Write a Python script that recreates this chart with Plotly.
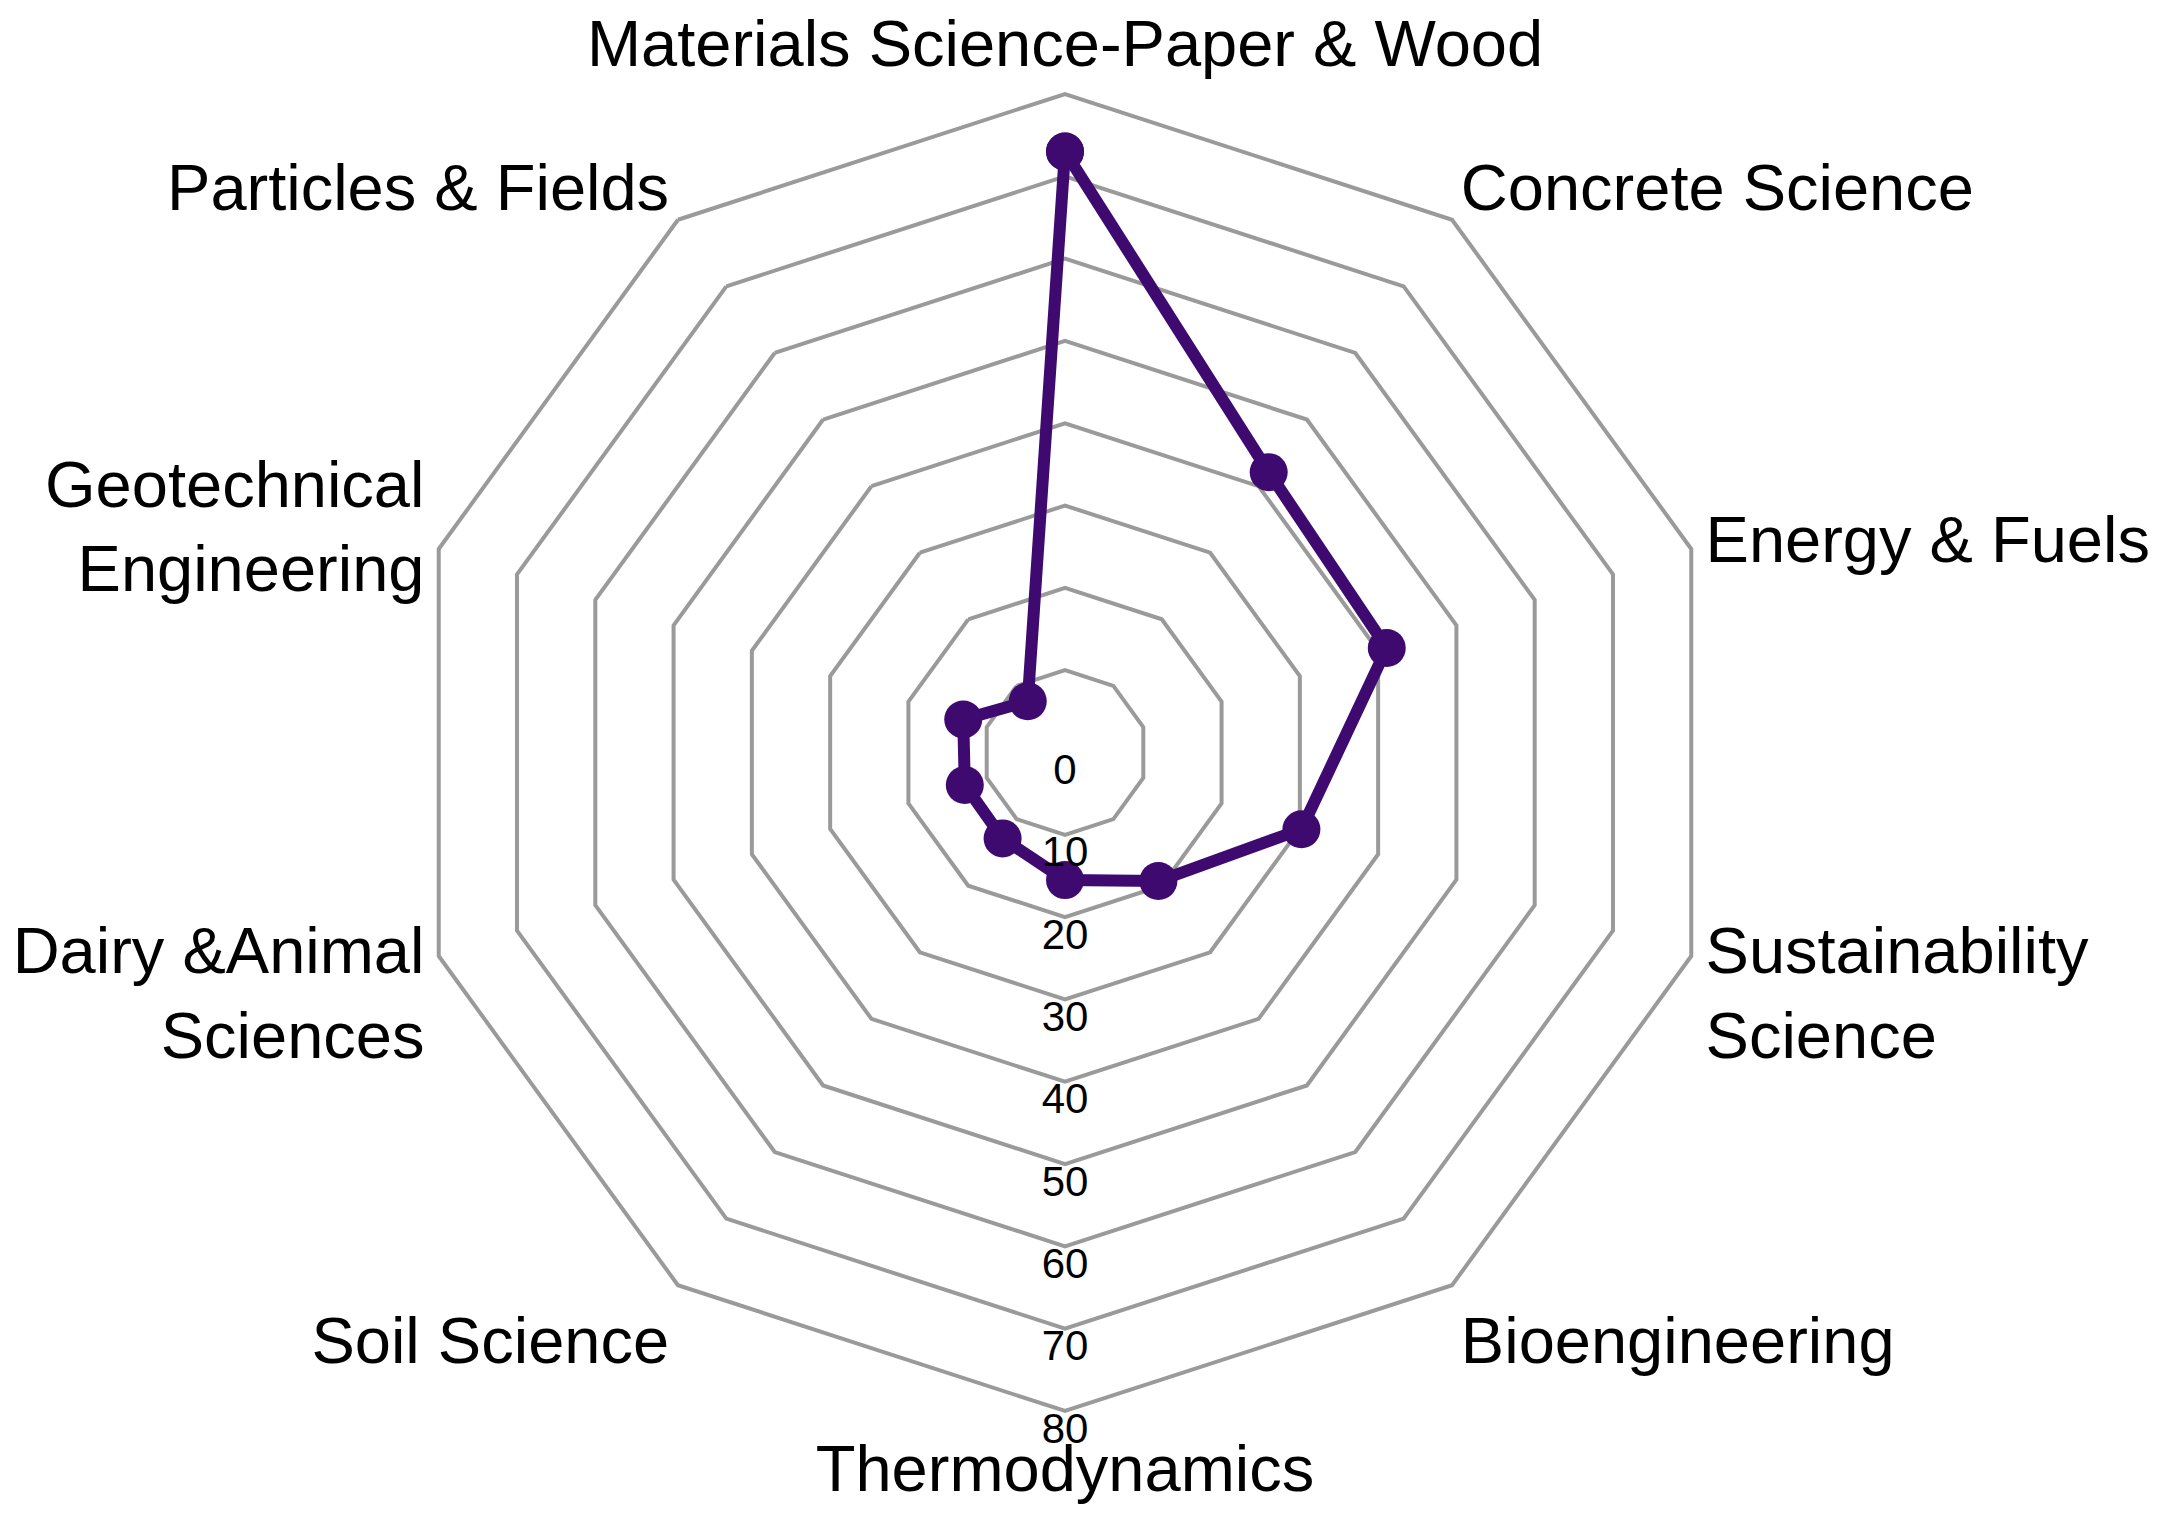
import plotly.graph_objects as go

categories = [
    "Materials Science-Paper & Wood",
    "Concrete Science",
    "Energy & Fuels",
    "Sustainability<br>Science",
    "Bioengineering",
    "Thermodynamics",
    "Soil Science",
    "Dairy &Animal<br>Sciences",
    "Geotechnical<br>Engineering",
    "Particles & Fields",
]
values = [73.0, 42.1, 41.1, 30.2, 19.3, 15.5, 12.9, 12.8, 13.0, 7.7]

radial_ticks = [0, 10, 20, 30, 40, 50, 60, 70, 80]
radial_tick_labels = [str(v) for v in radial_ticks]

FONT = "Liberation Sans, Arial, sans-serif"
LINE_COLOR = "#3f0a70"
GRID_COLOR = "#9a9a9a"
TICK_FONT = dict(family=FONT, size=42, color="black")

fig = go.Figure()

fig.add_trace(go.Scatterpolar(
    r=values + values[:1],
    theta=categories + categories[:1],
    mode="lines+markers",
    line=dict(color=LINE_COLOR, width=12),
    marker=dict(color=LINE_COLOR, size=38),
    hoverinfo="skip",
    showlegend=False,
))

# radial tick labels 10..80 along the Thermodynamics spoke
fig.add_trace(go.Scatterpolar(
    r=radial_ticks[1:],
    theta=[categories[5]] * (len(radial_ticks) - 1),
    mode="text",
    text=radial_tick_labels[1:],
    textposition="bottom center",
    textfont=TICK_FONT,
    cliponaxis=False,
    hoverinfo="skip",
    showlegend=False,
))

# the "0" label at the pole (polar drops points exactly at the pole),
# drawn on a hidden cartesian frame sharing the same centre
fig.add_trace(go.Scatter(
    x=[radial_ticks[0]],
    y=[radial_ticks[0]],
    mode="text",
    text=[radial_tick_labels[0]],
    textposition="bottom center",
    textfont=TICK_FONT,
    cliponaxis=False,
    hoverinfo="skip",
    showlegend=False,
))

fig.update_layout(
    width=2165,
    height=1522,
    paper_bgcolor="white",
    plot_bgcolor="rgba(0,0,0,0)",
    margin=dict(l=92, r=143, t=86, b=119),
    font=dict(family=FONT, color="black"),
    xaxis=dict(range=[-1, 1], visible=False, fixedrange=True),
    yaxis=dict(range=[-1, 1], visible=False, fixedrange=True),
    polar=dict(
        bgcolor="rgba(0,0,0,0)",
        gridshape="linear",
        angularaxis=dict(
            type="category",
            categoryarray=categories,
            direction="clockwise",
            rotation=90,
            showline=True,
            linecolor=GRID_COLOR,
            linewidth=4,
            showgrid=False,
            ticks="outside",
            ticklen=0,
            tickcolor="rgba(0,0,0,0)",
            tickfont=dict(family=FONT, size=65, color="black"),
        ),
        radialaxis=dict(
            range=[0, 80],
            tickvals=radial_ticks[1:],
            showticklabels=False,
            showline=False,
            ticks="",
            gridcolor=GRID_COLOR,
            gridwidth=4,
        ),
    ),
)

fig.write_html("out.html")
